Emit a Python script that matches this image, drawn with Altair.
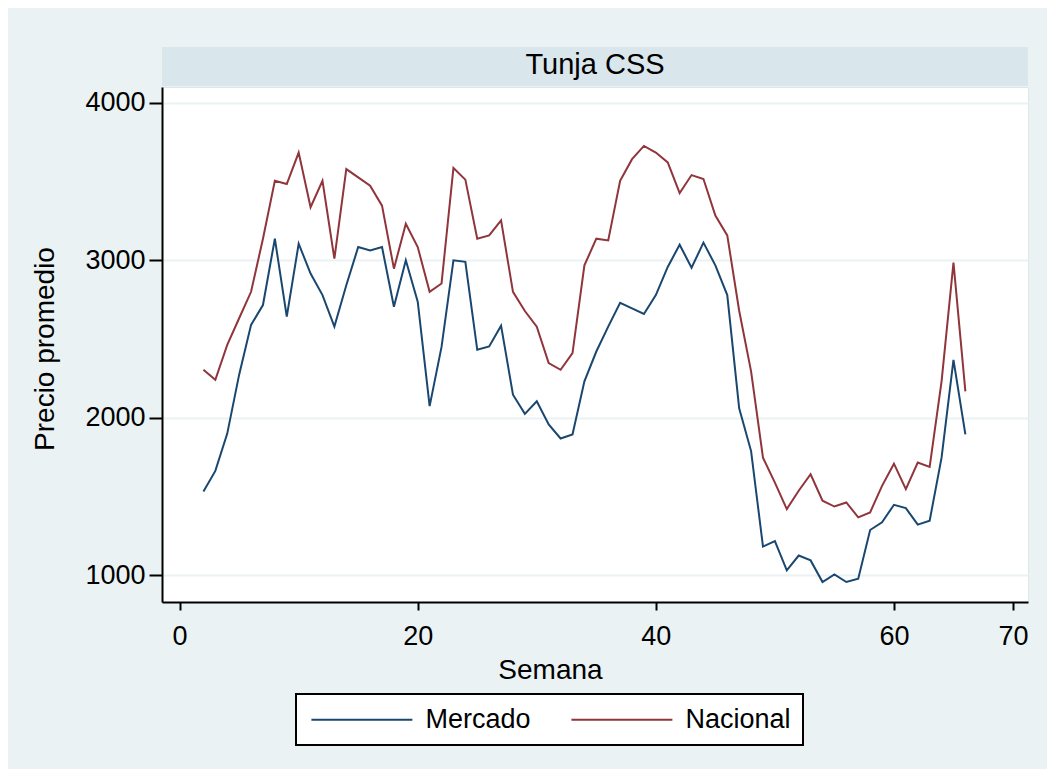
import altair as alt
import pandas as pd

# ---- data ----
semana = list(range(2, 67))
mercado = [1533, 1663, 1900, 2274, 2590, 2716, 3137, 2642, 3105, 2916,
           2779, 2579, 2842, 3084, 3063, 3084, 2705, 3000, 2737, 2074,
           2450, 3000, 2990, 2432, 2453, 2585, 2147, 2025, 2105, 1958,
           1869, 1895, 2232, 2421, 2579, 2730, 2695, 2659, 2779, 2958,
           3099, 2953, 3112, 2968, 2779, 2060, 1789, 1183, 1217, 1032,
           1126, 1095, 958, 1006, 958, 979, 1288, 1337, 1448, 1427,
           1322, 1347, 1747, 2368, 1895]
nacional = [2305, 2242, 2463, 2632, 2800, 3137, 3505, 3484, 3684, 3337,
            3505, 3010, 3579, 3526, 3474, 3347, 2947, 3232, 3084, 2800,
            2853, 3586, 3512, 3137, 3158, 3253, 2800, 2678, 2579, 2347,
            2305, 2411, 2968, 3137, 3126, 3505, 3642, 3726, 3684, 3621,
            3427, 3541, 3516, 3284, 3158, 2680, 2295, 1747, 1589, 1421,
            1537, 1642, 1474, 1437, 1463, 1368, 1400, 1568, 1709, 1547,
            1716, 1688, 2232, 2985, 2168]
series_names = ["Mercado", "Nacional"]
series_colors = ["#1A476F", "#90353B"]
x_ticks = [0, 20, 40, 60, 70]
y_ticks = [1000, 2000, 3000, 4000]
panel_title = "Tunja CSS"
x_title = "Semana"
y_title = "Precio promedio"

df = pd.DataFrame({
    "Semana": semana + semana,
    "Precio": mercado + nacional,
    "Serie": [series_names[0]] * len(semana) + [series_names[1]] * len(semana),
})

W, H = 866, 515
FONT = "Liberation Sans"
BG = "#EAF2F3"

strip = alt.Chart(pd.DataFrame({"t": [panel_title]})).mark_rect(
    color="#D9E6EB"
).encode(x=alt.value(0), x2=alt.value(W), y=alt.value(-40), y2=alt.value(-1))

strip_text = alt.Chart(pd.DataFrame({"t": [panel_title]})).mark_text(
    font=FONT, fontSize=29, color="#000000", baseline="alphabetic", align="center"
).encode(x=alt.value(W / 2), y=alt.value(-13.5), text="t:N")

lines = alt.Chart(df).mark_line(strokeWidth=2).encode(
    x=alt.X("Semana:Q",
            scale=alt.Scale(domain=[-1.48, 71.26], nice=False, zero=False),
            axis=alt.Axis(values=x_ticks, title=x_title, grid=False, format="d",
                          tickSize=8, labelPadding=13, labelFontSize=27,
                          titleFontSize=28, titleX=388, titleY=76,
                          titleBaseline="alphabetic", titleAlign="center")),
    y=alt.Y("Precio:Q",
            scale=alt.Scale(domain=[831, 4100], nice=False, zero=False),
            axis=alt.Axis(values=y_ticks, title=y_title, grid=True, format="d",
                          tickSize=13, labelPadding=4, labelFontSize=27,
                          titleFontSize=28, titleAngle=270, titleX=-117,
                          titleY=H / 2 + 4, titleBaseline="middle",
                          titleAlign="center")),
    color=alt.Color("Serie:N",
                    scale=alt.Scale(domain=series_names, range=series_colors),
                    legend=alt.Legend(title=None, orient="none", legendX=134,
                                      legendY=607, direction="horizontal",
                                      columns=2, symbolType="M-5,0H5",
                                      symbolSize=408, symbolStrokeWidth=2,
                                      symbolOffset=40.4,
                                      labelFontSize=27, labelFont=FONT,
                                      labelColor="#000000", labelOffset=50,
                                      columnPadding=36, padding=12,
                                      fillColor="#FFFFFF", strokeColor="#000000")),
)

chart = alt.layer(strip, lines, strip_text).properties(
    width=W, height=H,
    background=BG,
    padding={"left": 154, "top": 79, "right": 19, "bottom": 167},
    autosize=alt.AutoSizeParams(type="none"),
).configure_view(
    fill="#FFFFFF", stroke="#DDE7EA", strokeWidth=1
).configure_axis(
    labelFont=FONT, titleFont=FONT, labelColor="#000000", titleColor="#000000",
    titleFontWeight="normal", domainColor="#000000", domainWidth=2,
    tickColor="#000000", tickWidth=2, gridColor=BG, gridWidth=2,
).configure_legend(
    strokeWidth=2
)

chart.save("out.html", embed_options={"renderer": "svg", "actions": False})
